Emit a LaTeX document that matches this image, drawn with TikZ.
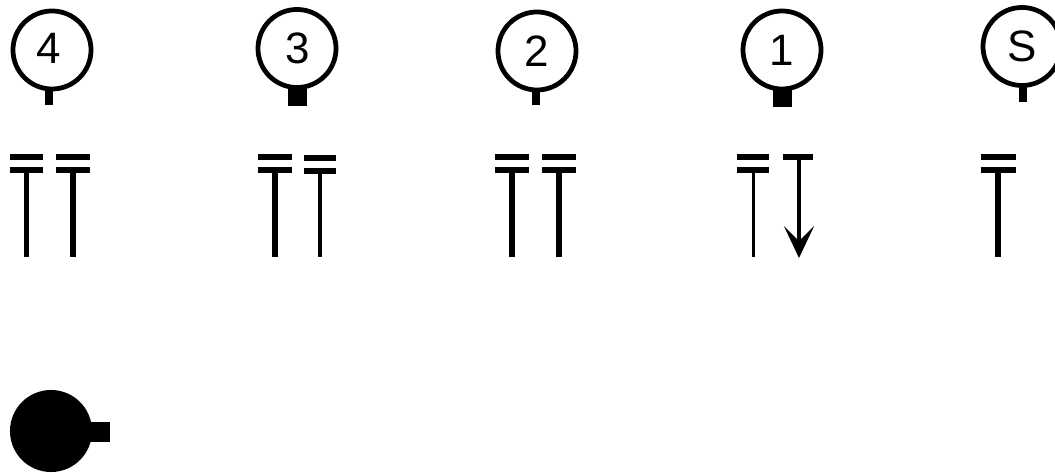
\documentclass[tikz,border=0pt]{standalone}
\usepackage{fontspec}
\setmainfont{Liberation Sans}
\usetikzlibrary{arrows.meta}
\tikzset{
	ball/.style={circle,draw,line width=1.35pt,minimum size=0.78cm,inner sep=0pt,outer sep=0pt,font=\fontsize{12.5}{14}\selectfont},
	thinstem/.style={line width=2.3pt},
	fatstem/.style={line width=5.4pt}
}
% #1 = x, #2 = half bar, #3 = y of upper bar, #4 = stem width
\newcommand{\ttbar}[4]{\draw[line width=1.5pt] (#1-#2,#3) -- (#1+#2,#3);
	\draw[line width=1.5pt] (#1-#2,#3-13) -- (#1+#2,#3-13);
	\draw[line width=#4] (#1,#3-13) -- (#1,216)}

\begin{document}
\begin{tikzpicture}[x=0.01cm,y=0.01cm]
	\useasboundingbox (0,0) rectangle (1055,473);
		\node[ball] (four) at (52,423) {\raisebox{1.2pt}{\kern-2pt 4}};
		\node[ball] (three) at (297,424.5) {\raisebox{-0.6pt}{\kern0.6pt 3}};
		\node[ball] (two) at (537,422) {2};
		\node[ball] (one) at (782,423) {\raisebox{-0.6pt}{1}};
		\node[ball] (ess) at (1022,426.5) {S};
		\coordinate (fourend) at (49,368);
		\coordinate (threeend) at (297,367);
		\coordinate (twoend) at (536,368);
		\coordinate (oneend) at (782,366);
		\coordinate (essend) at (1023,371);
			\draw[thinstem] (four.south -| fourend) -- (fourend);
			\draw[fatstem] (three.south) -- (threeend);
			\draw[thinstem] (two.south -| twoend) -- (twoend);
			\draw[fatstem] (one.south) -- (oneend);
			\draw[thinstem] (ess.south -| essend) -- (essend);
				\ttbar{26.5}{16.5}{316}{1.5pt};
				\ttbar{73}{17}{316}{1.5pt};
				\ttbar{275}{17}{316}{1.5pt};
				\ttbar{320}{16}{315}{1.1pt};
				\ttbar{512}{17}{316}{1.5pt};
				\ttbar{559}{17}{316}{1.5pt};
				\ttbar{753}{16}{316}{0.85pt};
				\ttbar{998}{17.5}{316}{1.5pt};
			\draw[line width=1.5pt] (783,316) -- (813,316);
			\draw[line width=1.2pt,-{Stealth[length=9pt,width=8.5pt,inset=4.2pt]}] (799,316) -- (799,215);
		\node[circle,fill,minimum size=0.82cm,inner sep=0pt,outer sep=0pt] (blob) at (51,42) {};
		\coordinate (blobend) at (110,41);
			\draw[line width=5.9pt] (blob.center |- blobend) -- (blobend);
\end{tikzpicture}
\end{document}
